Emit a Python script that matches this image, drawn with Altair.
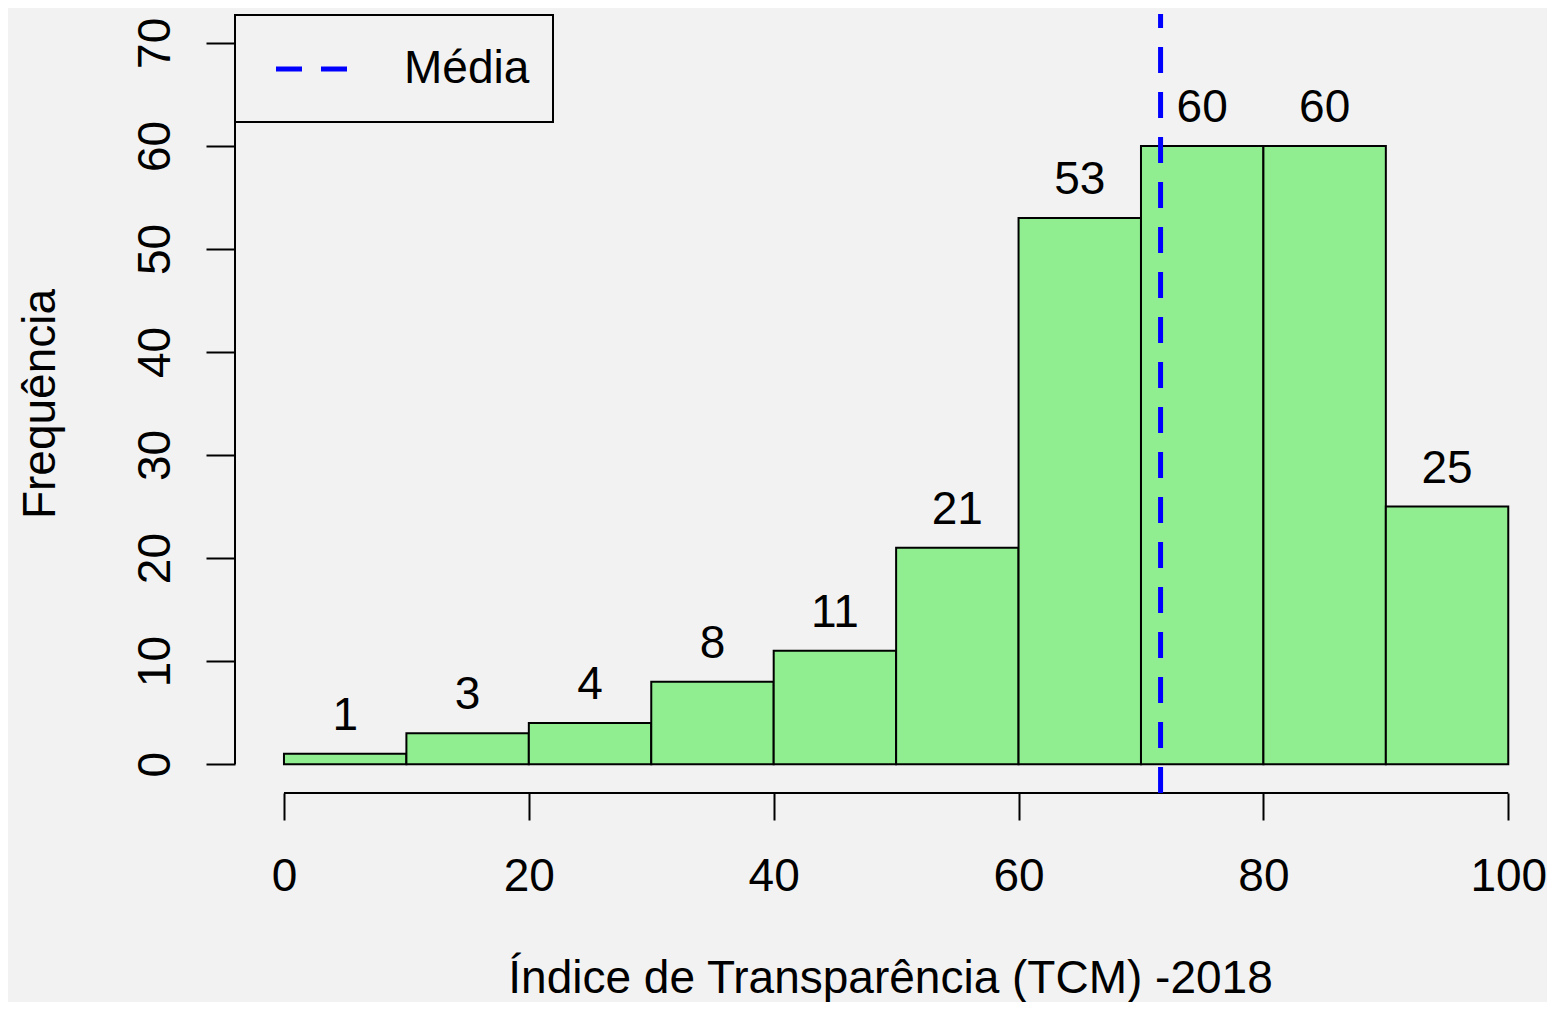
import altair as alt
import pandas as pd

# ---- data ----
bin_start = [0, 10, 20, 30, 40, 50, 60, 70, 80, 90]
bin_end = [10, 20, 30, 40, 50, 60, 70, 80, 90, 100]
counts = [1, 3, 4, 8, 11, 21, 53, 60, 60, 25]
mean_value = [71.6]
mean_label = ["Média"]
x_ticks = [0, 20, 40, 60, 80, 100]
y_ticks = [0, 10, 20, 30, 40, 50, 60, 70]
x_title = "Índice de Transparência (TCM) -2018"
y_title = "Frequência"

# ---- layout / style ----
X_DOMAIN = [-4, 103]
Y_DOMAIN = [-2.8, 72.8]
W, H = 1310, 779
FONT = "Liberation Sans"
FS = 46
BG = "#F2F2F2"

bars = pd.DataFrame({"start": bin_start, "end": bin_end, "count": counts})
bars["mid"] = (bars["start"] + bars["end"]) / 2
bars["zero"] = 0

xs = alt.Scale(domain=X_DOMAIN, nice=False, zero=False)
ys = alt.Scale(domain=Y_DOMAIN, nice=False, zero=False)

x_axis = alt.Axis(
    values=x_ticks, domain=False, grid=False,
    tickSize=27, tickWidth=2, tickColor="black",
    labelFont=FONT, labelFontSize=FS, labelColor="black",
    labelPadding=70, labelBaseline="alphabetic", labelFlush=False, labelOverlap=False,
    title=x_title, titleFont=FONT, titleFontSize=FS, titleFontWeight="normal",
    titleColor="black", titleBaseline="alphabetic", titleY=199, titleAnchor="middle",
)
y_axis = alt.Axis(
    values=y_ticks, domain=False, grid=False,
    tickSize=29, tickWidth=2, tickColor="black",
    labelFont=FONT, labelFontSize=FS, labelColor="black",
    labelAngle=270, labelAlign="center", labelBaseline="alphabetic",
    labelPadding=37, labelFlush=False, labelOverlap=False,
    title=y_title, titleFont=FONT, titleFontSize=FS, titleFontWeight="normal",
    titleColor="black", titleAngle=270, titleAlign="center", titleBaseline="alphabetic",
    titleX=-181, titleY=H / 2,
)

base = alt.Chart(bars)
rects = base.mark_rect(fill="#90EE90", stroke="black", strokeWidth=2).encode(
    x=alt.X("start:Q", scale=xs, axis=x_axis, title=x_title),
    x2="end:Q",
    y=alt.Y("zero:Q", scale=ys, axis=y_axis, title=y_title),
    y2="count:Q",
)
labels = base.mark_text(font=FONT, fontSize=FS, baseline="alphabetic", dy=-24, color="black").encode(
    x=alt.X("mid:Q", scale=xs, axis=x_axis, title=x_title),
    y=alt.Y("count:Q", scale=ys, axis=y_axis, title=y_title),
    text="count:Q",
)

axis_df = pd.DataFrame({"x0": [x_ticks[0]], "x1": [x_ticks[-1]], "y0": [y_ticks[0]], "y1": [y_ticks[-1]]})
x_line = alt.Chart(axis_df).mark_rule(color="black", strokeWidth=2).encode(
    x=alt.X("x0:Q", scale=xs, axis=x_axis, title=x_title),
    x2="x1:Q",
    y=alt.Y(datum=Y_DOMAIN[0], scale=ys, axis=y_axis, title=y_title),
)
y_line = alt.Chart(axis_df).mark_rule(color="black", strokeWidth=2).encode(
    x=alt.X(datum=X_DOMAIN[0], scale=xs, axis=x_axis, title=x_title),
    y=alt.Y("y0:Q", scale=ys, axis=y_axis, title=y_title),
    y2="y1:Q",
)

# legend key: a 75px horizontal dashed stroke (custom path; trailing move-to only pads the box)
legend = alt.Legend(
    title=None, orient="none", legendX=0, legendY=1,
    padding=23, symbolType="M-1.316,0H1.316M0,0.70", symbolSize=3249, symbolStrokeWidth=5,
    symbolOffset=24.5, labelOffset=59.5,
    labelFont=FONT, labelFontSize=FS, labelColor="black",
    strokeColor="black", fillColor=BG,
)
mean_df = pd.DataFrame({"mean": mean_value, "label": mean_label})
mean_rule = alt.Chart(mean_df).mark_rule(strokeWidth=5).encode(
    x=alt.X("mean:Q", scale=xs, axis=x_axis, title=x_title),
    y=alt.Y(datum=Y_DOMAIN[0], scale=ys, axis=y_axis, title=y_title),
    y2=alt.Y2(datum=Y_DOMAIN[1]),
    color=alt.Color("label:N", scale=alt.Scale(domain=mean_label, range=["#0000FF"]), legend=legend),
    strokeDash=alt.StrokeDash("label:N", scale=alt.Scale(domain=mean_label, range=[[26, 19]]), legend=legend),
)

chart = alt.layer(rects, labels, x_line, y_line, mean_rule).properties(
    width=W, height=H,
    autosize=alt.AutoSizeParams(type="none"),
    padding={"left": 227, "top": 6, "right": 2, "bottom": 209},
    background=BG,
).configure_view(strokeWidth=0).configure_legend(strokeWidth=2)

chart.save("out.html", embed_options={"renderer": "svg", "actions": False})
